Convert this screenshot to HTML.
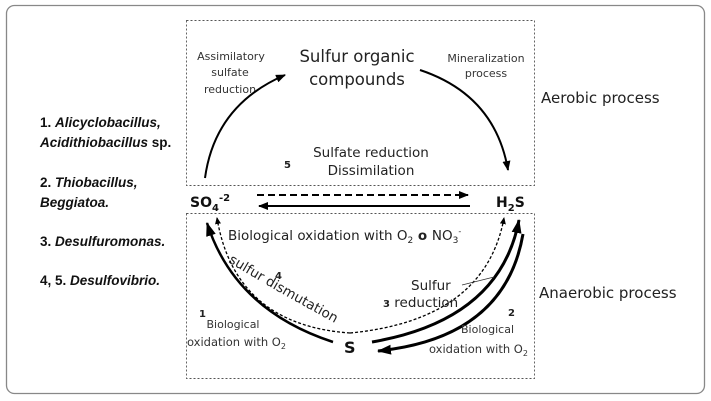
<!DOCTYPE html>
<html><head><meta charset="utf-8"><style>
html,body{margin:0;padding:0;background:#fff;}
svg{display:block;font-family:"DejaVu Sans","Liberation Sans",sans-serif;}
.l{font-family:"Liberation Sans",sans-serif;font-weight:bold;font-size:13.5px;fill:#111}
</style></head><body>
<svg width="711" height="401" viewBox="0 0 711 401" xmlns="http://www.w3.org/2000/svg">
<defs>
<marker id="ah" markerWidth="10" markerHeight="8" refX="9" refY="4" orient="auto" markerUnits="userSpaceOnUse"><path d="M0,0 L10,4 L0,8 z" fill="#000"/></marker>
<marker id="ahb" markerWidth="14" markerHeight="10" refX="13" refY="5" orient="auto" markerUnits="userSpaceOnUse"><path d="M0,0 L14,5 L0,10 z" fill="#000"/></marker>
<marker id="ahs" markerWidth="7" markerHeight="6" refX="6" refY="3" orient="auto" markerUnits="userSpaceOnUse"><path d="M0,0 L7,3 L0,6 z" fill="#000"/></marker>
<path id="dis" d="M228,262 Q288,298 348,330"/>
</defs>
<rect x="6.5" y="5.5" width="698" height="388" rx="8" fill="none" stroke="#888" stroke-width="1.3"/>
<rect x="186.5" y="20.5" width="348" height="165" fill="none" stroke="#555" stroke-width="0.9" stroke-dasharray="2,2"/>
<rect x="186.5" y="213.5" width="348" height="165" fill="none" stroke="#555" stroke-width="0.9" stroke-dasharray="2,2"/>

<text class="l" x="40" y="127">1. <tspan font-style="italic">Alicyclobacillus,</tspan></text>
<text class="l" x="40" y="147"><tspan font-style="italic">Acidithiobacillus</tspan> sp.</text>
<text class="l" x="40" y="187">2. <tspan font-style="italic">Thiobacillus,</tspan></text>
<text class="l" x="40" y="207"><tspan font-style="italic">Beggiatoa.</tspan></text>
<text class="l" x="40" y="246">3. <tspan font-style="italic">Desulfuromonas.</tspan></text>
<text class="l" x="40" y="285">4, 5. <tspan font-style="italic">Desulfovibrio.</tspan></text>

<g fill="#222" font-size="16.5" text-anchor="middle">
<text x="357" y="62">Sulfur organic</text>
<text x="357" y="85">compounds</text>
</g>
<g fill="#333" font-size="11" text-anchor="middle">
<text x="231" y="60">Assimilatory</text>
<text x="230" y="76">sulfate</text>
<text x="230" y="93">reduction</text>
<text x="486" y="62">Mineralization</text>
<text x="486" y="77">process</text>
</g>
<g fill="#222" font-size="13.5" text-anchor="middle">
<text x="371" y="157">Sulfate reduction</text>
<text x="371" y="175">Dissimilation</text>
</g>
<text x="284" y="168" font-size="10" font-weight="bold" fill="#222">5</text>
<text x="541" y="103" font-size="15" fill="#222">Aerobic process</text>
<text x="539" y="298" font-size="15" fill="#222">Anaerobic process</text>

<path d="M205,178 Q215,105 285,75" fill="none" stroke="#000" stroke-width="2" marker-end="url(#ah)"/>
<path d="M420,70 Q495,95 508,170" fill="none" stroke="#000" stroke-width="2" marker-end="url(#ah)"/>

<text x="190" y="207" font-size="14" font-weight="bold" fill="#111">SO<tspan font-size="10" dy="4">4</tspan><tspan font-size="10" dy="-10">-2</tspan></text>
<text x="496" y="207" font-size="14" font-weight="bold" fill="#111">H<tspan font-size="10" dy="4">2</tspan><tspan dy="-4">S</tspan></text>

<line x1="257" y1="195" x2="468" y2="195" stroke="#000" stroke-width="2" stroke-dasharray="7,4" marker-end="url(#ah)"/>
<line x1="470" y1="206" x2="259" y2="206" stroke="#000" stroke-width="2" marker-end="url(#ah)"/>

<text x="228" y="240" font-size="13.5" fill="#222">Biological oxidation with O<tspan font-size="9" dy="3">2</tspan><tspan dy="-3" font-weight="bold"> o </tspan>NO<tspan font-size="9" dy="3">3</tspan><tspan font-size="8" dy="-9">-</tspan></text>

<path d="M333,342 Q235,310 207,223" fill="none" stroke="#000" stroke-width="2.5" marker-end="url(#ahb)"/>
<path d="M350,333 Q235,325 217,218" fill="none" stroke="#000" stroke-width="1.3" stroke-dasharray="3,2" marker-end="url(#ahs)"/>
<path d="M350,333 Q485,320 504,218" fill="none" stroke="#000" stroke-width="1.3" stroke-dasharray="3,2" marker-end="url(#ahs)"/>
<path d="M372,342 Q500,320 519,220" fill="none" stroke="#000" stroke-width="3" marker-end="url(#ahb)"/>
<path d="M523,234 Q505,338 378,351" fill="none" stroke="#000" stroke-width="3" marker-end="url(#ahb)"/>
<line x1="462" y1="285" x2="494" y2="277" stroke="#333" stroke-width="0.8"/>

<text x="344" y="353" font-size="16" font-weight="bold" fill="#111">S</text>
<g fill="#222" font-size="13.5">
<text x="411" y="290">Sulfur</text>
<text x="383" y="307"><tspan font-size="10" font-weight="bold">3</tspan> reduction</text>
</g>
<text x="275" y="279" font-size="10" font-weight="bold" fill="#222">4</text>
<text font-size="13.5" fill="#222"><textPath href="#dis">sulfur dismutation</textPath></text>

<text x="199" y="317" font-size="10" font-weight="bold" fill="#222">1</text>
<text x="233" y="328" font-size="11" fill="#333" text-anchor="middle">Biological</text>
<text x="187" y="346" font-size="11.5" fill="#333">oxidation with O<tspan font-size="8" dy="3">2</tspan></text>
<text x="508" y="316" font-size="10" font-weight="bold" fill="#222">2</text>
<text x="461" y="333" font-size="11" fill="#333">Biological</text>
<text x="429" y="353" font-size="11.5" fill="#333">oxidation with O<tspan font-size="8" dy="3">2</tspan></text>
</svg>
</body></html>
